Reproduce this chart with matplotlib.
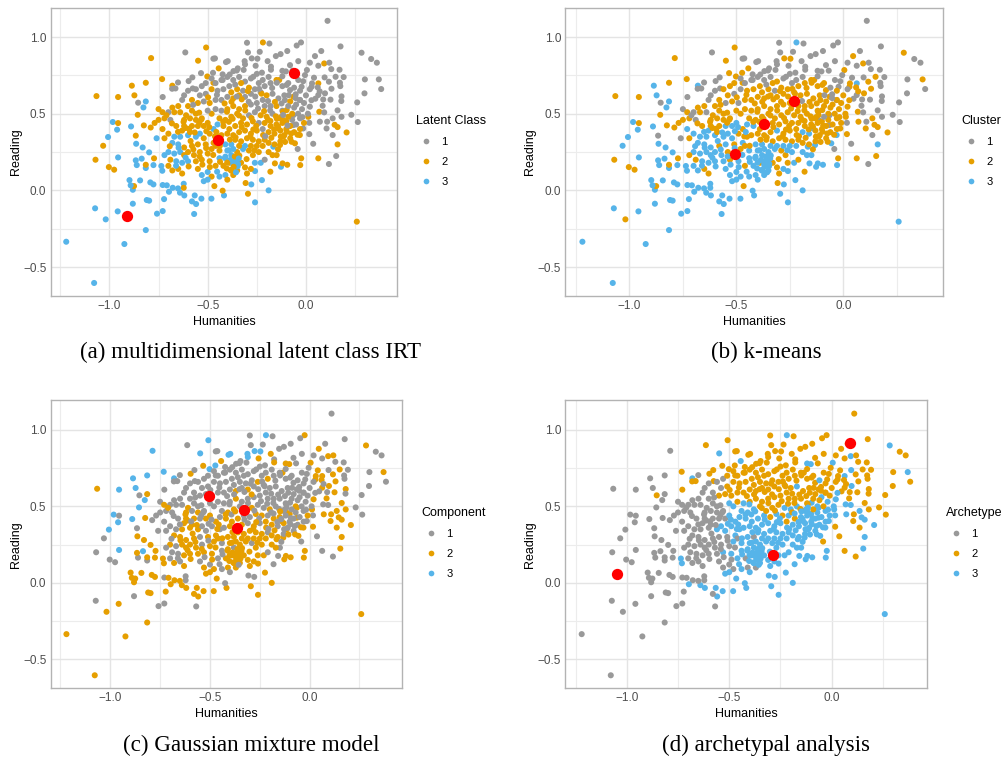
import matplotlib
matplotlib.use("Agg")
import matplotlib.pyplot as plt
from matplotlib.lines import Line2D

plt.rcParams["font.family"] = ["Liberation Sans", "DejaVu Sans"]

humanities = [
    .11, -.30, -.219, -.186, -.025, -.047, -.614, -.508, -.295, -.235,
    -.095, -.129, -.153, .078, .176, .283, .332, .361, .371, .383,
    .30, .298, .261, .264, .231, .259, .207, .161, .154, .117,
    .063, .037, -.024, -.029, -.042, -.095, -.127, -.119, -.19, -.224,
    -.259, -.295, -.278, -.307, -.181, -.259, -.417, -.424, -.481, -.466,
    -.569, -.559, -.58, -.532, -.566, -.619, -.641, -.622, -.622, -.651,
    -.678, -.697, -.722, -.729, -.758, -.798, -.81, -.815, -.924, -.958,
    -1.019, -1.073, -1.22, -1.078, -.881, -.881, -.875, -.892, -.898, -.844,
    -.792, -.776, -.729, -.708, -.731, -.736, -.776, -.815, -.815, -.861,
    -.866, -.836, -.798, -.773, -.831, -.864, -.956, -1.071, -1.003, -.976,
    -1.032, -1.007, -.961, -.983, -.956, -.89, -.866, -.825, -.856, -.827,
    -.815, -.854, -.873, -.956, -1.066, -.886, -.815, -.788, -.732, -.729,
    -.68, -.651, -.664, -.681, -.576, -.597, -.578, -.534, -.549, -.502,
    -.471, -.463, -.444, -.407, -.398, -.473, -.471, -.424, -.424, -.369,
    -.347, -.312, -.31, -.276, -.247, -.256, -.195, -.178, -.12, -.102,
    -.136, -.081, -.039, .005, .02, .046, .063, .093, .119, .129,
    .171, .151, .192, .173, .175, .117, .095, .063, .041, .181,
    .18, .161, .181, .146, .161, .108, .136, .105, .136, .068,
    .093, .088, .097, .063, .029, .071, .02, .012, .017, .017,
    -.014, -.031, -.056, -.064, -.031, -.022, -.005, -.039, -.081, -.064,
    -.107, -.098, -.115, -.064, -.141, -.115, -.132, -.166, -.149, -.158,
    -.63, -.60, -.58, -.70, -.67, -.64, -.61, -.56, -.72, -.69,
    -.75, -.77, -.79, -.73, -.70, -.76, -.72, -.67, -.64, -.60,
    -.66, -.62, -.58, -.55, -.52, -.50, -.63, -.59, -.56, -.52,
    -.68, -.65, -.62, -.58, -.55, -.51, -.47, -.45, -.70, -.67,
    -.64, -.62, -.60, -.57, -.54, -.50, -.72, -.69, -.66, -.63,
    -.60, -.56, -.53, -.49, -.46, -.70, -.68, -.65, -.63, -.55,
    -.53, -.50, -.48, -.52, -.50, -.44, -.41, -.40, -.37, -.35,
    -.42, -.39, -.37, -.35, -.33, -.31, -.30, -.28, -.26, -.23,
    -.41, -.38, -.35, -.32, -.29, -.27, -.24, -.21, -.19, -.17,
    -.44, -.46, -.41, -.38, -.36, -.33, -.30, -.27, -.24, -.21,
    -.43, -.40, -.37, -.34, -.31, -.28, -.25, -.22, -.19, -.16,
    -.42, -.39, -.36, -.33, -.30, -.27, -.24, -.21, -.18, -.15,
    -.44, -.41, -.38, -.35, -.32, -.29, -.26, -.23, -.20, -.17,
    -.13, -.10, -.08, -.06, -.03, -.07, -.12, -.15, -.18, -.21,
    -.48, -.46, -.43, -.40, -.37, -.34, -.31, -.28, -.25, -.22,
    -.55, -.52, -.49, -.46, -.43, -.40, -.37, -.34, -.31, -.28,
    -.54, -.51, -.48, -.45, -.42, -.38, -.35, -.32, -.29, -.26,
    -.23, -.20, -.17, -.14, -.11, -.08, -.05, -.02, -.03, -.01,
    -.24, -.21, -.18, -.15, -.12, -.09, -.06, -.03, .00, .02,
    -.46, -.43, -.40, -.37, -.34, -.31, -.28, -.25, -.22, -.19,
    -.39, -.36, -.33, -.60, -.56, -.53, -.51, -.48, -.62, -.58,
    -.75, -.73, -.71, -.68, -.65, -.62, -.59, -.56, -.53, -.50,
    -.54, -.49, -.47, -.45, -.48, -.44, -.40, -.37, -.34, -.31,
    -.28, -.25, -.22, -.19, -.16, -.13, -.11, -.08, -.13, -.10,
    -.07, -.05, -.09, -.12, -.04, -.06, -.09, -.03, -.01, .01,
    -.612, -.587, -.543, -.507, -.463, -.438, -.392, -.358, -.327, -.283,
    -.253, -.218, -.176, -.142, -.097, -.073, -.043, -.193, -.128, -.268,
    -.402, -.373, -.341, -.309, -.277, -.244, -.213, -.182, -.153, -.117,
    -.682, -.651, -.623, -.594, -.566, -.533, -.492, -.456, -.421, -.387,
    -.648, -.612, -.573, -.541, -.508, -.472, -.437, -.403, -.368, -.339,
    -.693, -.661, -.597, -.527, -.489, -.452, -.383, -.347, -.302, -.262,
    -.327, -.291, -.258, -.226, -.193, -.158, -.124, -.088, -.052, -.018,
    -.574, -.543, -.498, -.453, -.414, -.379, -.352, -.296, -.238, -.172,
    -.412, -.386, -.362, -.346, -.391, -.368, -.342, -.379, -.356, -.401,
    -.181, -.148, -.116, -.094, -.128, -.162, -.207, -.142, -.106, -.075,
    -.352, -.388, -.317, -.268, -.224, -.178, -.148, -.068, -.014, .031,
    -.12, .06, .13, .048, .085, -.052, -.098, .028, .125, .07,
]
reading = [
    1.106, .963, .965, .958, .965, .945, .90, .932, .90, .904,
    .909, .889, .876, .909, .939, .898, .857, .833, .724, .661,
    .724, .633, .574, .446, .493, -.204, .378, .30, .224, .172,
    .209, .304, .209, .165, .27, .167, .154, .176, .0, .067,
    -.078, -.022, .039, .048, .122, .126, -.033, -.002, -.054, .028,
    -.154, -.089, -.072, -.054, -.033, -.033, -.015, .043, .017, .013,
    .017, -.009, -.057, -.135, -.152, -.067, -.063, -.259, -.35, -.137,
    -.189, -.117, -.335, -.604, -.087, .004, .028, .033, .067, .065,
    .052, .039, .035, .033, .128, .159, .165, .146, .167, .165,
    .196, .207, .248, .209, .28, .304, .215, .20, .152, .135,
    .291, .348, .396, .446, .439, .417, .357, .424, .493, .541,
    .58, .572, .62, .609, .615, .683, .702, .863, .726, .609,
    .683, .704, .665, .663, .665, .713, .737, .765, .846, .743,
    .859, .861, .796, .837, .843, .767, .702, .757, .72, .778,
    .796, .843, .822, .861, .859, .813, .843, .807, .78, .776,
    .72, .817, .843, .785, .833, .876, .813, .828, .833, .791,
    .787, .741, .739, .702, .68, .709, .737, .698, .735, .613,
    .583, .522, .48, .428, .413, .448, .47, .404, .361, .513,
    .509, .593, .633, .622, .676, .448, .546, .48, .441, .367,
    .404, .361, .307, .491, .589, .676, .752, .72, .654, .611,
    .589, .524, .459, .426, .404, .35, .296, .285, .23, .176,
    .59, .55, .52, .51, .51, .51, .49, .50, .47, .46,
    .46, .44, .41, .40, .37, .34, .34, .35, .35, .36,
    .42, .42, .42, .42, .42, .44, .39, .38, .35, .34,
    .31, .30, .28, .29, .30, .30, .31, .35, .25, .24,
    .25, .23, .25, .23, .25, .24, .23, .20, .19, .18,
    .19, .19, .20, .19, .16, .16, .13, .14, .11, .14,
    .10, .12, .09, .06, .07, .09, .10, .07, .10, .13,
    .16, .18, .17, .20, .18, .15, .11, .14, .18, .18,
    .22, .23, .25, .27, .26, .23, .25, .20, .25, .23,
    .26, .29, .30, .30, .33, .32, .34, .33, .32, .33,
    .36, .37, .36, .38, .39, .37, .39, .40, .38, .37,
    .42, .40, .42, .44, .43, .45, .44, .44, .42, .43,
    .47, .46, .48, .50, .47, .49, .51, .49, .48, .50,
    .47, .45, .42, .38, .40, .50, .52, .55, .55, .55,
    .50, .53, .52, .53, .55, .53, .55, .56, .57, .59,
    .57, .58, .57, .59, .59, .61, .60, .62, .61, .63,
    .62, .63, .66, .65, .66, .64, .66, .65, .67, .66,
    .64, .62, .63, .60, .62, .58, .56, .53, .47, .44,
    .70, .68, .70, .72, .68, .70, .67, .65, .62, .66,
    .70, .72, .74, .72, .74, .71, .73, .76, .72, .74,
    .68, .69, .70, .65, .66, .68, .70, .73, .62, .59,
    .53, .51, .49, .54, .55, .46, .47, .46, .47, .52,
    .37, .37, .40, .43, .27, .21, .26, .27, .29, .29,
    .29, .29, .29, .31, .30, .32, .36, .34, .39, .40,
    .46, .43, .48, .44, .50, .54, .55, .59, .57, .50,
    .407, .322, .441, .386, .352, .291, .447, .346, .413, .352,
    .421, .361, .343, .417, .383, .317, .363, .461, .477, .397,
    .513, .467, .489, .521, .472, .534, .517, .522, .483, .512,
    .437, .382, .447, .402, .378, .461, .413, .381, .447, .331,
    .278, .213, .267, .221, .276, .231, .186, .143, .192, .227,
    .288, .161, .156, .168, .152, .122, .133, .158, .204, .262,
    .594, .578, .612, .631, .583, .577, .567, .621, .602, .478,
    .558, .507, .607, .623, .567, .578, .612, .648, .662, .668,
    .211, .198, .221, .173, .262, .154, .208, .128, .118, .181,
    .453, .467, .492, .423, .351, .398, .353, .268, .316, .371,
    .782, .756, .786, .741, .768, .787, .702, .781, .712, .698,
    .744, .672, .663, .598, .552, .627, .688, .588, .592, .646,
]
# class of each point in panels a, b, c, d
membership = """
1112 1112 2333 1112 1122 1112 1112 2232 1112 1112
1112 1112 1112 1112 1112 1223 1112 1112 1223 1112
1112 1112 1112 1112 1112 2323 2223 2323 1223 1112
2212 1112 2223 2323 1112 2323 3323 2323 3323 3323
3323 2323 3313 2213 2213 3323 3323 2313 3323 2223
3311 3323 3321 3323 3323 3323 3323 3311 2311 3321
3321 3323 3321 3311 3311 3321 3321 3321 3321 3321
3221 3311 3321 3321 3311 3321 2221 3321 3321 3321
3321 3321 3311 3321 3323 3323 3321 3311 2221 3311
3321 3331 3321 2221 3321 3321 3331 2211 2211 2211
2311 3331 3331 3331 2211 3331 2111 2221 2231 3331
3321 1112 2331 2231 2221 2331 2231 2231 2232 1112
2333 1111 1112 1112 1112 1122 1112 1222 2233 2232
1112 1112 2223 1132 1132 1232 2212 1112 1112 1112
1112 1132 1132 1232 1232 1122 1122 1112 1123 1123
2222 1112 1112 1223 1112 1222 1112 2223 1122 1112
1112 1222 1112 1112 1112 1222 1113 2323 1122 1122
1112 1122 1122 2223 2223 1122 1223 1222 1122 2213
1113 1112 1223 1122 1222 1223 1223 2223 1113 1222
1213 2323 2323 1123 1112 1112 1112 1112 1212 2212
1212 2213 2123 1123 2323 2223 2323 3323 2313 2313
1111 2211 2211 1111 2211 2111 2221 2211 2211 1111
2211 2211 2211 2311 2311 3111 2211 3311 3321 3321
2211 2221 2221 2311 2321 2323 2321 2221 3323 2313
3321 3321 2321 2221 2311 2221 2323 2213 3321 3311
3321 2321 2321 2321 2211 2221 3211 2211 3311 3321
3321 2321 2223 2323 2213 2311 2321 2211 2221 2311
3321 3311 2321 3323 3323 3313 3321 2313 2321 2323
2321 2223 3323 3323 2223 2223 2223 2323 3223 3323
3323 3313 2323 3323 2213 2223 2323 1213 2323 2323
2313 2221 3323 3321 2223 2223 2223 2223 2223 2213
2213 2223 2223 2223 2313 2223 2213 1222 2323 2313
2323 2223 2223 2213 2212 2223 1222 2213 2222 2223
2213 2223 2223 2212 2222 1222 1212 2213 2223 1213
2213 2223 2213 2213 2213 2223 1212 2212 1212 1212
2213 1212 1213 2212 2222 2212 2212 1212 1212 1212
2112 1212 2112 1212 1212 1212 2222 2212 1222 1212
1211 1112 2112 1212 1212 2212 2212 1112 2212 1222
1212 2212 1213 1212 1212 2212 1213 1213 1213 2223
1112 1222 1212 2212 1212 1212 1113 1212 1212 1112
1112 1112 1112 1112 1112 1212 1112 1112 1112 1112
1212 1112 2212 1111 1211 1211 1212 1112 1111 2211
2111 2221 2121 2211 2211 2221 2211 2221 2211 1213
3313 2213 3223 3313 2223 3313 3323 3323 2323 3323
2323 2323 2323 2223 2223 2213 2213 2213 2223 2213
1213 1213 2112 2213 1212 1212 1212 1212 1212 1213
2221 2321 2211 2313 2223 2223 2213 2223 2213 2223
2213 2223 2223 2213 2213 2223 2223 2212 2213 2223
2213 2223 2212 2212 2212 1212 2212 1212 2212 2212
2211 2311 2221 2211 2321 2211 2313 2323 2223 2223
3321 3321 2321 2321 2311 2321 2313 2323 3323 2323
2311 3311 2321 2311 2321 3313 2323 3323 2223 2323
2212 1222 1212 2212 1112 2212 1212 1112 1112 1213
1211 2211 2212 1212 2212 2212 1212 2212 1212 1212
3323 3323 2323 3323 3323 2323 3323 2323 3313 2323
2213 2223 1213 1213 2213 2213 1213 2213 2223 2213
1112 1112 1112 1112 1112 1122 1212 1112 1112 1222
1112 1222 1222 1112 1122 1112 1212 1213 1122 1212
""".split()

# red centres per panel, humanities then reading
centres_hum = [[-.06, -.45, -.91], [-.23, -.37, -.505], [-.504, -.329, -.362], [-1.05, -.288, .089]]
centres_read = [[.765, .33, -.165], [.585, .43, .235], [.565, .476, .361], [.057, .183, .913]]

legend_titles = ["Latent Class", "Cluster", "Component", "Archetype"]
captions = ["(a) multidimensional latent class IRT", "(b) k-means",
            "(c) Gaussian mixture model", "(d) archetypal analysis"]
colors = {"1": "#999999", "2": "#E69F00", "3": "#56B4E9"}

W, H = 1006, 760
# left, right, top, bottom in pixels
boxes = [(50.5, 397.3, 7.5, 296), (565.3, 942.7, 7.5, 296),
         (50.5, 402.3, 400.3, 688.3), (565.3, 927, 400.3, 688.3)]
legend_pos = [(416, 115), (961, 115), (421, 507), (946, 507)]
caption_pos = [(251, 352), (766, 352), (251, 745), (766, 745)]

fig = plt.figure(figsize=(W / 100, H / 100), dpi=100)

for i in range(4):
    l, r, t, b = boxes[i]
    ax = fig.add_axes([l / W, 1 - b / H, (r - l) / W, (b - t) / H])
    labels = [m[i] for m in membership]
    ax.scatter(humanities, reading, c=[colors[c] for c in labels], s=19,
               linewidths=0, zorder=3)
    ax.scatter(centres_hum[i], centres_read[i], c="#FF0000", s=66, linewidths=0, zorder=4)

    ax.set_xlim(-1.30, 0.465)
    ax.set_ylim(-0.689, 1.193)
    ax.set_xticks([-1.0, -0.5, 0.0])
    ax.set_yticks([-0.5, 0.0, 0.5, 1.0])
    ax.set_xticks([-1.25, -0.75, -0.25, 0.25], minor=True)
    ax.set_yticks([-0.25, 0.25, 0.75], minor=True)
    ax.grid(True, which="major", color="#e4e4e4", lw=1.0, zorder=0)
    ax.grid(True, which="minor", color="#ececec", lw=0.8, zorder=0)
    ax.tick_params(which="major", length=0, labelsize=8.5, labelcolor="#4d4d4d", pad=3)
    ax.tick_params(which="minor", length=0)
    for s in ax.spines.values():
        s.set_color("#b3b3b3")
        s.set_linewidth(1.0)
    ax.set_xlabel("Humanities", fontsize=9, labelpad=2.5)
    ax.set_ylabel("Reading", fontsize=9, labelpad=1)

    handles = [Line2D([], [], ls="", marker="o", ms=4.1, mew=0, color=colors[k]) for k in "123"]
    lx, ly = legend_pos[i]
    fig.legend(handles, ["1", "2", "3"], title=legend_titles[i], loc="upper left",
               bbox_to_anchor=(lx / W, 1 - ly / H), frameon=False, borderpad=0, borderaxespad=0,
               fontsize=8, title_fontsize=9, alignment="left", handlelength=1.8,
               handletextpad=0.5, labelspacing=0.9)

    cx, cy = caption_pos[i]
    fig.text(cx / W, 1 - cy / H, captions[i], ha="center", va="center",
             family=["Liberation Serif", "DejaVu Serif"], fontsize=16.6)

fig.savefig("out.png", dpi=100)
